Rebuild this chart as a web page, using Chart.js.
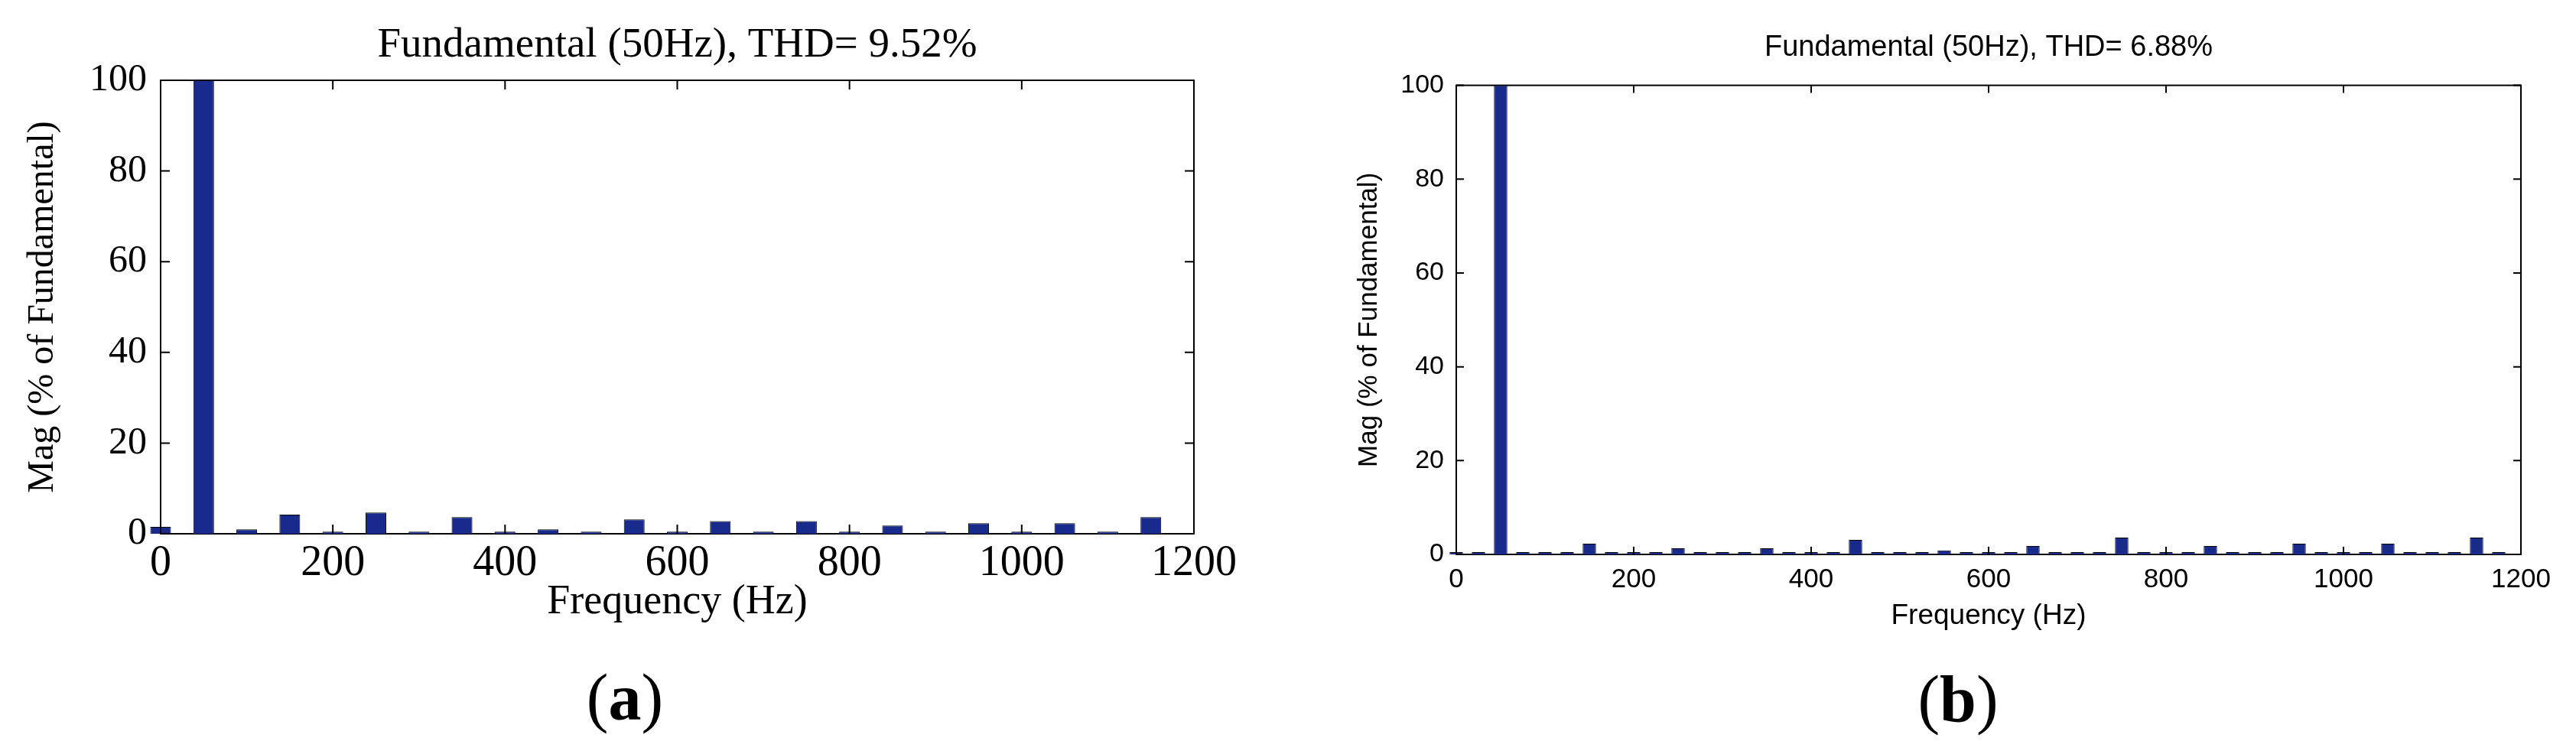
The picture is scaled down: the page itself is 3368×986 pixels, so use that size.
<!DOCTYPE html>
<html>
<head>
<meta charset="utf-8">
<script src="https://cdn.jsdelivr.net/npm/chart.js@4.4.1/dist/chart.umd.min.js"></script>
<style>
    body { margin: 0; width: 3368px; height: 986px; overflow: hidden; background: #fff; position: relative; }
    canvas { position: absolute; top: 0; }
    .lab { position: absolute; width: 240px; text-align: center; font-family: 'Liberation Serif', 'Times New Roman', serif; font-size: 86px; line-height: 1; color: #000; }
</style>
</head>
<body>
<canvas id="chartA" width="1771" height="860" style="left:0px"></canvas>
<canvas id="chartB" width="1800" height="860" style="left:1700px"></canvas>
<div class="lab" style="left:697px; top:869px">(<b>a</b>)</div>
<div class="lab" style="left:2440px; top:871px">(<b>b</b>)</div>
<script>
// (a) 50 Hz 간격 고조파
const freqA = [0, 50, 100, 150, 200, 250, 300, 350, 400, 450, 500, 550,
    600, 650, 700, 750, 800, 850, 900, 950, 1000, 1050, 1100, 1150];
const magA = [1.5, 100, 0.95, 4.2, 0.45, 4.7, 0.45, 3.65, 0.45, 0.95, 0.45, 3.15,
    0.45, 2.8, 0.45, 2.8, 0.45, 1.8, 0.45, 2.3, 0.45, 2.3, 0.45, 3.65];

// (b) 25 Hz 간격
const freqB = [0, 25, 50, 75, 100, 125, 150, 175, 200, 225, 250, 275,
    300, 325, 350, 375, 400, 425, 450, 475, 500, 525, 550, 575,
    600, 625, 650, 675, 700, 725, 750, 775, 800, 825, 850, 875,
    900, 925, 950, 975, 1000, 1025, 1050, 1075, 1100, 1125, 1150, 1175];
const magB = [0.5, 0.5, 100, 0.5, 0.5, 0.5, 2.3, 0.5, 0.5, 0.5, 1.3, 0.5,
    0.5, 0.5, 1.3, 0.5, 0.5, 0.5, 3.1, 0.5, 0.5, 0.5, 0.85, 0.5,
    0.5, 0.5, 1.8, 0.5, 0.5, 0.5, 3.6, 0.5, 0.5, 0.5, 1.8, 0.5,
    0.5, 0.5, 2.3, 0.5, 0.5, 0.5, 2.3, 0.5, 0.5, 0.5, 3.6, 0.5];

const titleA = 'Fundamental (50Hz), THD= 9.52%';
const titleB = 'Fundamental (50Hz), THD= 6.88%';
const xLabel = 'Frequency (Hz)';
const yLabel = 'Mag (% of Fundamental)';

const barColor = '#182a8c';
const serif = "'Liberation Serif', 'Times New Roman', serif";
const sans = "'Liberation Sans', Arial, Helvetica, sans-serif";

// MATLAB 스타일 테두리와 안쪽 눈금
const matlabAxes = {
    id: 'matlabAxes',
    beforeDatasetsDraw(chart) {
        const { ctx, chartArea: a } = chart;
        ctx.save();
        ctx.strokeStyle = '#000';
        ctx.lineWidth = 2;
        ctx.strokeRect(a.left, a.top, a.right - a.left, a.bottom - a.top);
        ctx.restore();
    },
    afterDatasetsDraw(chart, args, opts) {
        const { ctx, chartArea: a, scales } = chart;
        const len = opts.len || 10;
        ctx.save();
        ctx.strokeStyle = '#000';
        ctx.lineWidth = 2;
        ctx.beginPath();
        scales.x.ticks.forEach(t => {
            const px = scales.x.getPixelForValue(t.value);
            ctx.moveTo(px, a.bottom); ctx.lineTo(px, a.bottom - len);
            ctx.moveTo(px, a.top); ctx.lineTo(px, a.top + len);
        });
        scales.y.ticks.forEach(t => {
            const py = scales.y.getPixelForValue(t.value);
            ctx.moveTo(a.left, py); ctx.lineTo(a.left + len, py);
            ctx.moveTo(a.right, py); ctx.lineTo(a.right - len, py);
        });
        ctx.stroke();
        ctx.restore();
    }
};

function makeChart(id, freq, mag, s) {
    const ctx = document.getElementById(id).getContext('2d');
    return new Chart(ctx, {
        type: 'bar',
        data: {
            datasets: [{
                data: freq.map((f, i) => ({ x: f, y: mag[i] })),
                backgroundColor: barColor,
                borderColor: '#000',
                borderWidth: 1,
                borderSkipped: 'start',
                categoryPercentage: 1,
                barPercentage: s.barPct,
                clip: false
            }]
        },
        options: {
            responsive: false,
            animation: false,
            devicePixelRatio: 1,
            layout: { padding: 0 },
            plugins: {
                legend: { display: false },
                tooltip: { enabled: false },
                title: {
                    display: true,
                    text: s.title,
                    color: '#000',
                    font: { family: s.font, size: s.titleSize, weight: 'normal' },
                    padding: { top: s.titlePadTop, bottom: s.titlePadBottom }
                },
                matlabAxes: { len: s.tickLen }
            },
            scales: {
                x: {
                    type: 'linear',
                    offset: false,
                    min: 0,
                    max: 1200,
                    grid: { display: false, drawTicks: false, offset: false },
                    border: { display: false },
                    ticks: {
                        stepSize: 200,
                        autoSkip: false,
                        maxRotation: 0,
                        color: '#000',
                        padding: s.xTickPad,
                        font: { family: s.font, size: s.xTickSize },
                        callback: v => String(v)
                    },
                    title: {
                        display: true,
                        text: xLabel,
                        color: '#000',
                        font: { family: s.font, size: s.xTitleSize },
                        padding: { top: 0, bottom: s.xTitlePad }
                    },
                    afterFit: scale => { scale.height = s.xAxisH; }
                },
                y: {
                    min: 0,
                    max: 100,
                    grid: { display: false, drawTicks: false },
                    border: { display: false },
                    ticks: {
                        stepSize: 20,
                        color: '#000',
                        padding: s.yTickPad,
                        font: { family: s.font, size: s.yTickSize },
                        callback: v => String(v)
                    },
                    title: {
                        display: true,
                        text: yLabel,
                        color: '#000',
                        font: { family: s.font, size: s.yTitleSize },
                        padding: { top: s.yTitlePad, bottom: 0 }
                    },
                    afterFit: scale => { scale.width = s.yAxisW; }
                },
                // 오른쪽 여백용 빈 축
                yRight: {
                    position: 'right',
                    display: true,
                    grid: { display: false, drawTicks: false },
                    border: { display: false },
                    ticks: { display: false },
                    afterFit: scale => { scale.width = s.rightW; }
                }
            }
        },
        plugins: [matlabAxes]
    });
}

const chartA = makeChart('chartA', freqA, magA, {
    title: titleA, font: serif, barPct: 0.48,
    titleSize: 55, titlePadTop: 27, titlePadBottom: 12,
    xTickSize: 56, xTickPad: 6, xTitleSize: 54, xTitlePad: 40, xAxisH: 162,
    yTickSize: 50, yTickPad: 18, yTitleSize: 48, yTitlePad: 28, yAxisW: 210,
    rightW: 210, tickLen: 12
});

const chartB = makeChart('chartB', freqB, magB, {
    title: titleB, font: sans, barPct: 0.6,
    titleSize: 38, titlePadTop: 40, titlePadBottom: 26,
    xTickSize: 35, xTickPad: 12, xTitleSize: 37, xTitlePad: 32, xAxisH: 135,
    yTickSize: 34, yTickPad: 16, yTitleSize: 35, yTitlePad: 69, yAxisW: 204,
    rightW: 204, tickLen: 10
});
</script>
</body>
</html>
